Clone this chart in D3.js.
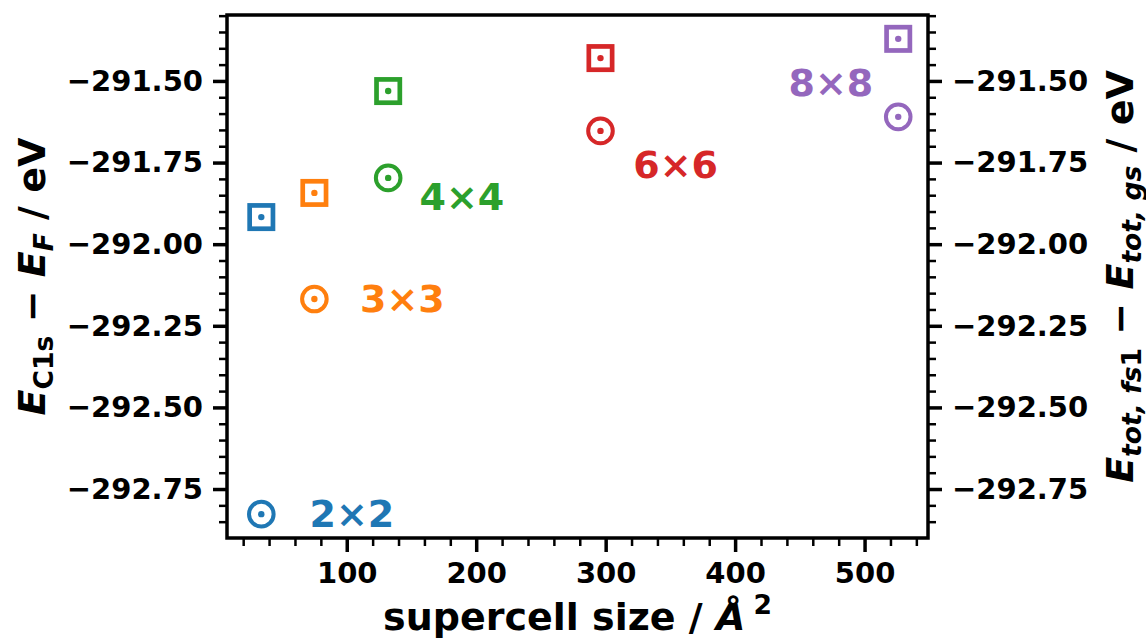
<!DOCTYPE html>
<html>
<head>
<meta charset="utf-8">
<script src="https://cdn.jsdelivr.net/npm/d3@7"></script>
<style>
  html, body { margin: 0; padding: 0; background: #fff; }
  svg { display: block; font-family: "DejaVu Sans", sans-serif; font-weight: bold; }
</style>
</head>
<body>
<svg id="chart" width="1146" height="641"></svg>
<script>
// Supercell sizes (Å²) and energies (eV)
const cellNames = ["2×2", "3×3", "4×4", "6×6", "8×8"];
const supercellSize = [34, 75, 132, 296, 526];
const coreLevelEnergy = [-292.827, -292.168, -291.797, -291.653, -291.610];   // E_C1s − E_F
const totalEnergyDiff = [-291.917, -291.843, -291.531, -291.430, -291.371];   // E_tot,fs1 − E_tot,gs
const labelSize = [104, 143, 189, 354, 474];
const labelEnergy = [-292.827, -292.168, -291.855, -291.757, -291.506];
const cellColors = ["#1f77b4", "#ff7f0e", "#2ca02c", "#d62728", "#9467bd"];

const yTicks = [-291.50, -291.75, -292.00, -292.25, -292.50, -292.75];
const xTicks = [100, 200, 300, 400, 500];

const svg = d3.select("#chart");
const plotLeft = 227, plotRight = 928, plotTop = 15, plotBottom = 538;

const x = d3.scaleLinear().domain([7.5, 549]).range([plotLeft, plotRight]);
const y = d3.scaleLinear().domain([-292.90, -291.298]).range([plotBottom, plotTop]);

const yMinor = d3.range(-292.85, -291.30, 0.05).map(v => +v.toFixed(2))
  .filter(v => !yTicks.some(t => Math.abs(t - v) < 1e-6));
const xMinor = d3.range(20, 549, 20).filter(v => v % 100 !== 0);

const tickFont = 29;

function styleAxis(g, width) {
  g.select(".domain").remove();
  g.selectAll(".tick line").attr("stroke", "#000").attr("stroke-width", width);
  g.selectAll(".tick text")
    .attr("font-family", "DejaVu Sans")
    .attr("font-weight", "bold")
    .attr("font-size", tickFont)
    .attr("fill", "#000");
}

// left axis
svg.append("g").attr("transform", `translate(${plotLeft},0)`)
  .call(d3.axisLeft(y).tickValues(yMinor).tickSize(8).tickFormat(""))
  .call(g => styleAxis(g, 2.5));
svg.append("g").attr("transform", `translate(${plotLeft},0)`)
  .call(d3.axisLeft(y).tickValues(yTicks).tickSize(14).tickPadding(10).tickFormat(d3.format(".2f")))
  .call(g => styleAxis(g, 3.5));

// right axis
svg.append("g").attr("transform", `translate(${plotRight},0)`)
  .call(d3.axisRight(y).tickValues(yMinor).tickSize(8).tickFormat(""))
  .call(g => styleAxis(g, 2.5));
svg.append("g").attr("transform", `translate(${plotRight},0)`)
  .call(d3.axisRight(y).tickValues(yTicks).tickSize(14).tickPadding(10).tickFormat(d3.format(".2f")))
  .call(g => styleAxis(g, 3.5));

// bottom axis
svg.append("g").attr("transform", `translate(0,${plotBottom})`)
  .call(d3.axisBottom(x).tickValues(xMinor).tickSize(8).tickFormat(""))
  .call(g => styleAxis(g, 2.5));
svg.append("g").attr("transform", `translate(0,${plotBottom})`)
  .call(d3.axisBottom(x).tickValues(xTicks).tickSize(14).tickPadding(10).tickFormat(d3.format("d")))
  .call(g => styleAxis(g, 3.5));

// frame
svg.append("rect")
  .attr("x", plotLeft).attr("y", plotTop)
  .attr("width", plotRight - plotLeft).attr("height", plotBottom - plotTop)
  .attr("fill", "none").attr("stroke", "#000").attr("stroke-width", 3.5);

// markers: circled dot for core level, boxed dot for total energy difference
const pts = svg.append("g");
supercellSize.forEach((s, i) => {
  const c = cellColors[i];
  const cx = x(s), cy = y(coreLevelEnergy[i]);
  pts.append("circle").attr("cx", cx).attr("cy", cy).attr("r", 12.3)
    .attr("fill", "none").attr("stroke", c).attr("stroke-width", 4);
  pts.append("circle").attr("cx", cx).attr("cy", cy).attr("r", 3.2).attr("fill", c);

  const sy = y(totalEnergyDiff[i]);
  const side = 23.3;
  pts.append("rect").attr("x", cx - side / 2).attr("y", sy - side / 2)
    .attr("width", side).attr("height", side)
    .attr("fill", "none").attr("stroke", c).attr("stroke-width", 4.7);
  pts.append("circle").attr("cx", cx).attr("cy", sy).attr("r", 3.2).attr("fill", c);
});

// supercell labels
svg.append("g").selectAll("text").data(cellNames).join("text")
  .attr("x", (d, i) => x(labelSize[i]))
  .attr("y", (d, i) => y(labelEnergy[i]))
  .attr("text-anchor", "middle")
  .attr("dominant-baseline", "central")
  .attr("font-size", 38)
  .attr("font-weight", "bold")
  .attr("fill", (d, i) => cellColors[i])
  .text(d => d);

// axis titles
const labelFont = 38;

const xl = svg.append("text")
  .attr("x", (plotLeft + plotRight) / 2).attr("y", 630)
  .attr("text-anchor", "middle")
  .attr("font-size", labelFont);
xl.append("tspan").text("supercell size / ");
xl.append("tspan").attr("font-style", "italic").text("Å");
xl.append("tspan").attr("font-size", labelFont * 0.7).attr("dx", 8).attr("dy", -16).text("2");

function energyLabel(parts, cx) {
  const t = svg.append("text")
    .attr("transform", `translate(${cx},${(plotTop + plotBottom) / 2}) rotate(-90)`)
    .attr("text-anchor", "middle")
    .attr("font-size", labelFont);
  parts.forEach(p => {
    const ts = t.append("tspan").text(p.text);
    if (p.italic) ts.attr("font-style", "italic");
    if (p.sub) ts.attr("font-size", labelFont * 0.7);
    if (p.dy) ts.attr("dy", p.dy);
  });
  return t;
}

energyLabel([
  { text: "E", italic: true },
  { text: "C1s", sub: true, dy: 8 },
  { text: " − ", dy: -8 },
  { text: "E", italic: true },
  { text: "F", italic: true, sub: true, dy: 8 },
  { text: " / eV", dy: -8 }
], 45);

energyLabel([
  { text: "E", italic: true },
  { text: "tot, fs", italic: true, sub: true, dy: 8 },
  { text: "1", sub: true },
  { text: " − ", dy: -8 },
  { text: "E", italic: true },
  { text: "tot, gs", italic: true, sub: true, dy: 8 },
  { text: " / eV", dy: -8 }
], 1133);
</script>
</body>
</html>
